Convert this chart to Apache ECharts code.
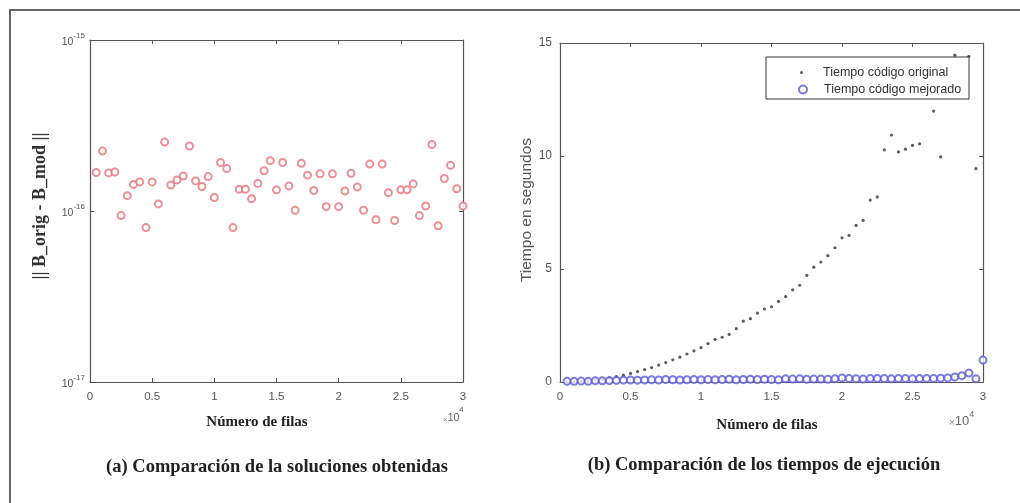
<!DOCTYPE html>
<html>
<head>
<meta charset="utf-8">
<script src="https://cdn.jsdelivr.net/npm/echarts@6/dist/echarts.min.js"></script>
<style>
  html, body { margin: 0; padding: 0; background: #fff; }
  #chart { width: 1020px; height: 503px; }
</style>
</head>
<body>
<div id="chart"></div>
<script>
// número de filas (eje x de ambas figuras)
const filas = [500, 1000, 1500, 2000, 2500, 3000, 3500, 4000, 4500, 5000,
  5500, 6000, 6500, 7000, 7500, 8000, 8500, 9000, 9500, 10000,
  10500, 11000, 11500, 12000, 12500, 13000, 13500, 14000, 14500, 15000,
  15500, 16000, 16500, 17000, 17500, 18000, 18500, 19000, 19500, 20000,
  20500, 21000, 21500, 22000, 22500, 23000, 23500, 24000, 24500, 25000,
  25500, 26000, 26500, 27000, 27500, 28000, 28500, 29000, 29500, 30000];

// (a) || B_orig - B_mod ||
const errorNorm = [1.68e-16, 2.24e-16, 1.67e-16, 1.69e-16, 0.94e-16, 1.23e-16, 1.43e-16, 1.48e-16, 0.80e-16, 1.48e-16,
  1.10e-16, 2.53e-16, 1.42e-16, 1.52e-16, 1.60e-16, 2.40e-16, 1.50e-16, 1.39e-16, 1.59e-16, 1.20e-16,
  1.92e-16, 1.77e-16, 0.80e-16, 1.34e-16, 1.34e-16, 1.18e-16, 1.45e-16, 1.72e-16, 1.97e-16, 1.33e-16,
  1.92e-16, 1.40e-16, 1.01e-16, 1.90e-16, 1.62e-16, 1.32e-16, 1.65e-16, 1.06e-16, 1.65e-16, 1.06e-16,
  1.31e-16, 1.66e-16, 1.38e-16, 1.01e-16, 1.88e-16, 0.89e-16, 1.88e-16, 1.28e-16, 0.88e-16, 1.33e-16,
  1.33e-16, 1.44e-16, 0.94e-16, 1.07e-16, 2.45e-16, 0.82e-16, 1.55e-16, 1.85e-16, 1.35e-16, 1.07e-16];

// (b) tiempos en segundos (null = tapado por la leyenda / fuera de rango)
const tiempoOriginal = [0.01, 0.02, 0.04, 0.06, 0.09, 0.13, 0.18, 0.24, 0.30, 0.38,
  0.46, 0.55, 0.64, 0.75, 0.86, 0.98, 1.10, 1.24, 1.38, 1.52,
  1.70, 1.89, 1.98, 2.11, 2.36, 2.69, 2.80, 3.05, 3.23, 3.33,
  3.57, 3.78, 4.08, 4.28, 4.72, 5.08, 5.31, 5.59, 5.94, 6.38,
  6.49, 6.93, 7.15, 8.05, 8.19, 10.27, 10.93, 10.18, 10.30, 10.47,
  10.54, null, 11.99, 9.96, null, 14.46, null, 14.41, 9.44, null];

const tiempoMejorado = [0.03, 0.03, 0.04, 0.03, 0.05, 0.05, 0.06, 0.07, 0.08, 0.09,
  0.08, 0.09, 0.10, 0.09, 0.11, 0.10, 0.09, 0.10, 0.11, 0.10,
  0.11, 0.10, 0.11, 0.12, 0.10, 0.11, 0.12, 0.11, 0.12, 0.11,
  0.10, 0.14, 0.13, 0.14, 0.12, 0.13, 0.13, 0.12, 0.14, 0.18,
  0.16, 0.14, 0.13, 0.15, 0.16, 0.15, 0.14, 0.15, 0.16, 0.14,
  0.15, 0.16, 0.15, 0.17, 0.18, 0.22, 0.28, 0.40, 0.14, 0.97];

const xTicks = [0, 5000, 10000, 15000, 20000, 25000, 30000];
const tiempoTicks = [0, 5, 10, 15];
const errorTicks = [1e-17, 1e-16, 1e-15];

const SANS = 'Liberation Sans, Arial, sans-serif';
const SERIF = 'Liberation Serif, Times New Roman, serif';
const AXIS_COL = '#555';

function pairs(ys) {
  return filas.map((f, i) => [f, ys[i]]).filter(p => p[1] !== null);
}

function xAx(grid, pos) {
  return {
    type: 'value', gridIndex: grid, position: pos,
    min: xTicks[0], max: xTicks[xTicks.length - 1], interval: xTicks[1] - xTicks[0],
    axisLine: { show: true, onZero: false, lineStyle: { color: AXIS_COL, width: 1.2 } },
    axisTick: { show: true, inside: true, length: 4, lineStyle: { color: AXIS_COL } },
    splitLine: { show: false },
    axisLabel: pos === 'bottom' ? {
      margin: 9, color: '#555', fontFamily: SANS, fontSize: 11.5,
      formatter: v => String(v / 10000)
    } : { show: false }
  };
}

function yLog(pos) {
  return {
    type: 'log', logBase: 10, gridIndex: 0, position: pos,
    min: errorTicks[0], max: errorTicks[errorTicks.length - 1],
    axisLine: { show: true, onZero: false, lineStyle: { color: AXIS_COL, width: 1.2 } },
    axisTick: { show: true, inside: true, length: 4, lineStyle: { color: AXIS_COL } },
    splitLine: { show: false },
    axisLabel: pos === 'left' ? {
      margin: 5, color: '#555', fontFamily: SANS,
      formatter: v => '{b|10}{s|' + Math.round(Math.log10(v)) + '}',
      rich: {
        b: { fontSize: 10.5, lineHeight: 16, verticalAlign: 'bottom', color: '#555', fontFamily: SANS },
        s: { fontSize: 8, lineHeight: 10, verticalAlign: 'top', color: '#555', fontFamily: SANS }
      }
    } : { show: false }
  };
}

function yLin(pos) {
  return {
    type: 'value', gridIndex: 1, position: pos,
    min: tiempoTicks[0], max: tiempoTicks[tiempoTicks.length - 1], interval: tiempoTicks[1] - tiempoTicks[0],
    axisLine: { show: true, onZero: false, lineStyle: { color: AXIS_COL, width: 1.2 } },
    axisTick: { show: true, inside: true, length: 4, lineStyle: { color: AXIS_COL } },
    splitLine: { show: false },
    axisLabel: pos === 'left' ? { margin: 8, color: '#555', fontFamily: SANS, fontSize: 12 } : { show: false }
  };
}

function times10(x, y, big) {
  return {
    type: 'text', x: x, y: y, silent: true,
    style: {
      text: '{m|\u00d7}{b|10}{s|4}',
      rich: {
        m: { fontSize: big ? 10 : 8, lineHeight: 18, verticalAlign: 'bottom', fill: '#888', fontFamily: SANS },
        b: { fontSize: big ? 13 : 10.5, lineHeight: 18, verticalAlign: 'bottom', fill: '#666', fontFamily: SANS },
        s: { fontSize: big ? 9 : 8, lineHeight: 10, verticalAlign: 'top', fill: '#666', fontFamily: SANS }
      }
    }
  };
}

const chart = echarts.init(document.getElementById('chart'), null, { renderer: 'canvas' });

const option = {
  animation: false,
  backgroundColor: '#fff',
  grid: [
    { left: 90, top: 40, width: 373, height: 342 },
    { left: 560, top: 43, width: 423, height: 339 }
  ],
  xAxis: [xAx(0, 'bottom'), xAx(0, 'top'), xAx(1, 'bottom'), xAx(1, 'top')],
  yAxis: [yLog('left'), yLog('right'), yLin('left'), yLin('right')],
  legend: [
    {
      data: [{ name: 'Tiempo código original', icon: 'circle' }],
      orient: 'vertical', left: 795, top: 61, z: 6,
      itemWidth: 3, itemHeight: 3, selectedMode: false,
      textStyle: { fontFamily: SANS, fontSize: 12.5, color: '#333', padding: [0, 0, 0, 15] }
    },
    {
      data: [{ name: 'Tiempo código mejorado', icon: 'emptyCircle' }],
      orient: 'vertical', left: 793, top: 78, z: 6,
      itemWidth: 8, itemHeight: 8, selectedMode: false,
      textStyle: { fontFamily: SANS, fontSize: 12.5, color: '#333', padding: [0, 0, 0, 12] }
    }
  ],
  graphic: [
    // marco exterior (recortado a la derecha y abajo)
    { type: 'rect', shape: { x: 10, y: 10, width: 1030, height: 520 }, silent: true, z: 0,
      style: { fill: 'none', stroke: '#666', lineWidth: 2 } },
    // caja de la leyenda
    { type: 'rect', shape: { x: 766, y: 57, width: 203, height: 42 }, silent: true, z: 5,
      style: { fill: '#fff', stroke: '#333', lineWidth: 1 } },
    // nombres de ejes
    { type: 'text', x: 40, y: 206, rotation: Math.PI / 2, silent: true,
      style: { text: '|| B_orig - B_mod ||', fontFamily: SERIF, fontWeight: 'bold', fontSize: 18,
        fill: '#333', align: 'center', verticalAlign: 'middle' } },
    { type: 'text', x: 527, y: 210, rotation: Math.PI / 2, silent: true,
      style: { text: 'Tiempo en segundos', fontFamily: SANS, fontSize: 15.5,
        fill: '#555', align: 'center', verticalAlign: 'middle' } },
    { type: 'text', x: 257, y: 422, silent: true,
      style: { text: 'Número de filas', fontFamily: SERIF, fontWeight: 'bold', fontSize: 15,
        fill: '#222', align: 'center', verticalAlign: 'middle' } },
    { type: 'text', x: 767, y: 425, silent: true,
      style: { text: 'Número de filas', fontFamily: SERIF, fontWeight: 'bold', fontSize: 15,
        fill: '#222', align: 'center', verticalAlign: 'middle' } },
    times10(443, 406, false),
    times10(949, 410, true),
    // pies de figura
    { type: 'text', x: 277, y: 467, silent: true,
      style: { text: '(a) Comparación de la soluciones obtenidas', fontFamily: SERIF, fontWeight: 'bold',
        fontSize: 18.5, fill: '#222', align: 'center', verticalAlign: 'middle' } },
    { type: 'text', x: 764, y: 465, silent: true,
      style: { text: '(b) Comparación de los tiempos de ejecución', fontFamily: SERIF, fontWeight: 'bold',
        fontSize: 18.5, fill: '#222', align: 'center', verticalAlign: 'middle' } }
  ],
  series: [
    {
      type: 'scatter', xAxisIndex: 0, yAxisIndex: 0,
      data: pairs(errorNorm),
      symbol: 'emptyCircle', symbolSize: 7,
      itemStyle: { color: '#e6747b', borderWidth: 1 },
      emphasis: { disabled: true }
    },
    {
      name: 'Tiempo código original',
      type: 'scatter', xAxisIndex: 2, yAxisIndex: 2,
      data: pairs(tiempoOriginal),
      symbol: 'circle', symbolSize: 3.2,
      itemStyle: { color: '#333' },
      emphasis: { disabled: true }
    },
    {
      name: 'Tiempo código mejorado',
      type: 'scatter', xAxisIndex: 2, yAxisIndex: 2,
      data: pairs(tiempoMejorado),
      symbol: 'emptyCircle', symbolSize: 7,
      itemStyle: { color: '#5a5ad8', borderWidth: 1.2 },
      emphasis: { disabled: true }
    }
  ]
};

chart.setOption(option);
</script>
</body>
</html>
